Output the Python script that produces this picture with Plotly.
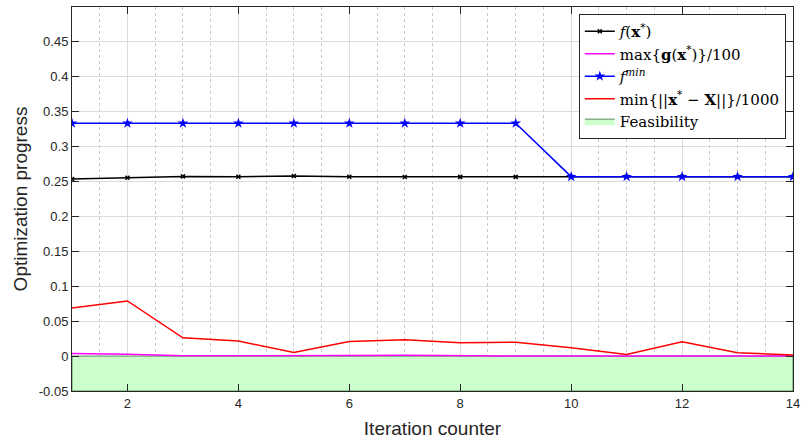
import plotly.graph_objects as go

iterations = list(range(1, 15))
f_best = [0.2536, 0.2555, 0.2574, 0.2569, 0.2579, 0.2569, 0.2564, 0.2567, 0.2567, 0.2570, 0.2570, 0.2570, 0.2570, 0.2570]
max_g = [0.0038, 0.0028, 0.0005, 0.0003, 0.0002, 0.0008, 0.0012, 0.0003, 0.0002, 0.0001, 0.0001, 0.0001, 0.0001, 0.0001]
f_min = [0.3334, 0.3334, 0.3334, 0.3334, 0.3334, 0.3334, 0.3334, 0.3334, 0.3334, 0.2570, 0.2570, 0.2570, 0.2570, 0.2570]
min_dist = [0.0688, 0.0790, 0.0262, 0.0215, 0.0053, 0.0210, 0.0234, 0.0190, 0.0200, 0.0119, 0.0024, 0.0205, 0.0048, 0.0014]
feas_x = [1, 14, 14, 1, 1]
feas_y = [0, 0, -0.05, -0.05, 0]
y_ticks = [-0.05, 0, 0.05, 0.1, 0.15, 0.2, 0.25, 0.3, 0.35, 0.4, 0.45]
y_labels = ["-0.05", "0", "0.05", "0.1", "0.15", "0.2", "0.25", "0.3", "0.35", "0.4", "0.45"]
x_ticks = [2, 4, 6, 8, 10, 12, 14]

fig = go.Figure()
fig.add_trace(go.Scatter(x=feas_x, y=feas_y, fill="toself", fillcolor="#ccffcc",
                         mode="lines", line=dict(color="#5a8a5a", width=1),
                         name="Feasibility", showlegend=True, legendrank=5))
fig.add_trace(go.Scatter(x=iterations, y=f_best, mode="lines+markers",
                         line=dict(color="black", width=1.5),
                         marker=dict(symbol="x-thin", size=4, color="black", line=dict(width=1.5, color="black")),
                         name="<i>f</i>(<b>x</b><sup>*</sup>)", legendrank=1))
fig.add_trace(go.Scatter(x=iterations, y=max_g, mode="lines",
                         line=dict(color="#ff00ff", width=1.5),
                         name="max{<b>g</b>(<b>x</b><sup>*</sup>)}/100", legendrank=2))
fig.add_trace(go.Scatter(x=iterations, y=f_min, mode="lines+markers",
                         line=dict(color="blue", width=1.5),
                         marker=dict(symbol="star", size=8, color="blue"),
                         name="<i>f</i><sup><i>min</i></sup>", legendrank=3))
fig.add_trace(go.Scatter(x=iterations, y=min_dist, mode="lines",
                         line=dict(color="red", width=1.5),
                         name="min{||<b>x</b><sup>*</sup> − <b>X</b>||}/1000", legendrank=4))

axis_common = dict(showline=True, linecolor="#262626", linewidth=1, mirror="ticks",
                   ticks="inside", ticklen=7, tickcolor="#262626",
                   tickfont=dict(family="Liberation Sans, Arial", size=13, color="#262626"),
                   zeroline=False, gridcolor="#dcdcdc", gridwidth=1)

fig.update_xaxes(range=[1, 14], tickvals=x_ticks, showgrid=True,
                 minor=dict(dtick=0.5, tick0=1, showgrid=True, gridcolor="#c8c8c8", griddash="dot", gridwidth=1, ticks=""),
                 title=dict(text="Iteration counter", font=dict(family="Liberation Sans, Arial", size=19, color="#262626"), standoff=12),
                 **axis_common)
fig.update_yaxes(range=[-0.05, 0.5], tickvals=y_ticks, ticktext=y_labels, showgrid=True,
                 title=dict(text="Optimization progress", font=dict(family="Liberation Sans, Arial", size=19, color="#262626"), standoff=6),
                 **axis_common)

fig.update_layout(width=806, height=444, margin=dict(l=72, r=9, t=6, b=53),
                  plot_bgcolor="white", paper_bgcolor="white",
                  legend=dict(x=0.99, y=0.982, xanchor="right", yanchor="top",
                              bgcolor="white", bordercolor="#262626", borderwidth=1,
                              font=dict(family="DejaVu Serif, Liberation Serif", size=15, color="black"),
                              tracegroupgap=0, itemwidth=30, traceorder="normal"))

fig.write_html("out.html", config={"displayModeBar": False},
               post_script="document.body.style.margin='0';document.body.style.overflow='hidden';")
